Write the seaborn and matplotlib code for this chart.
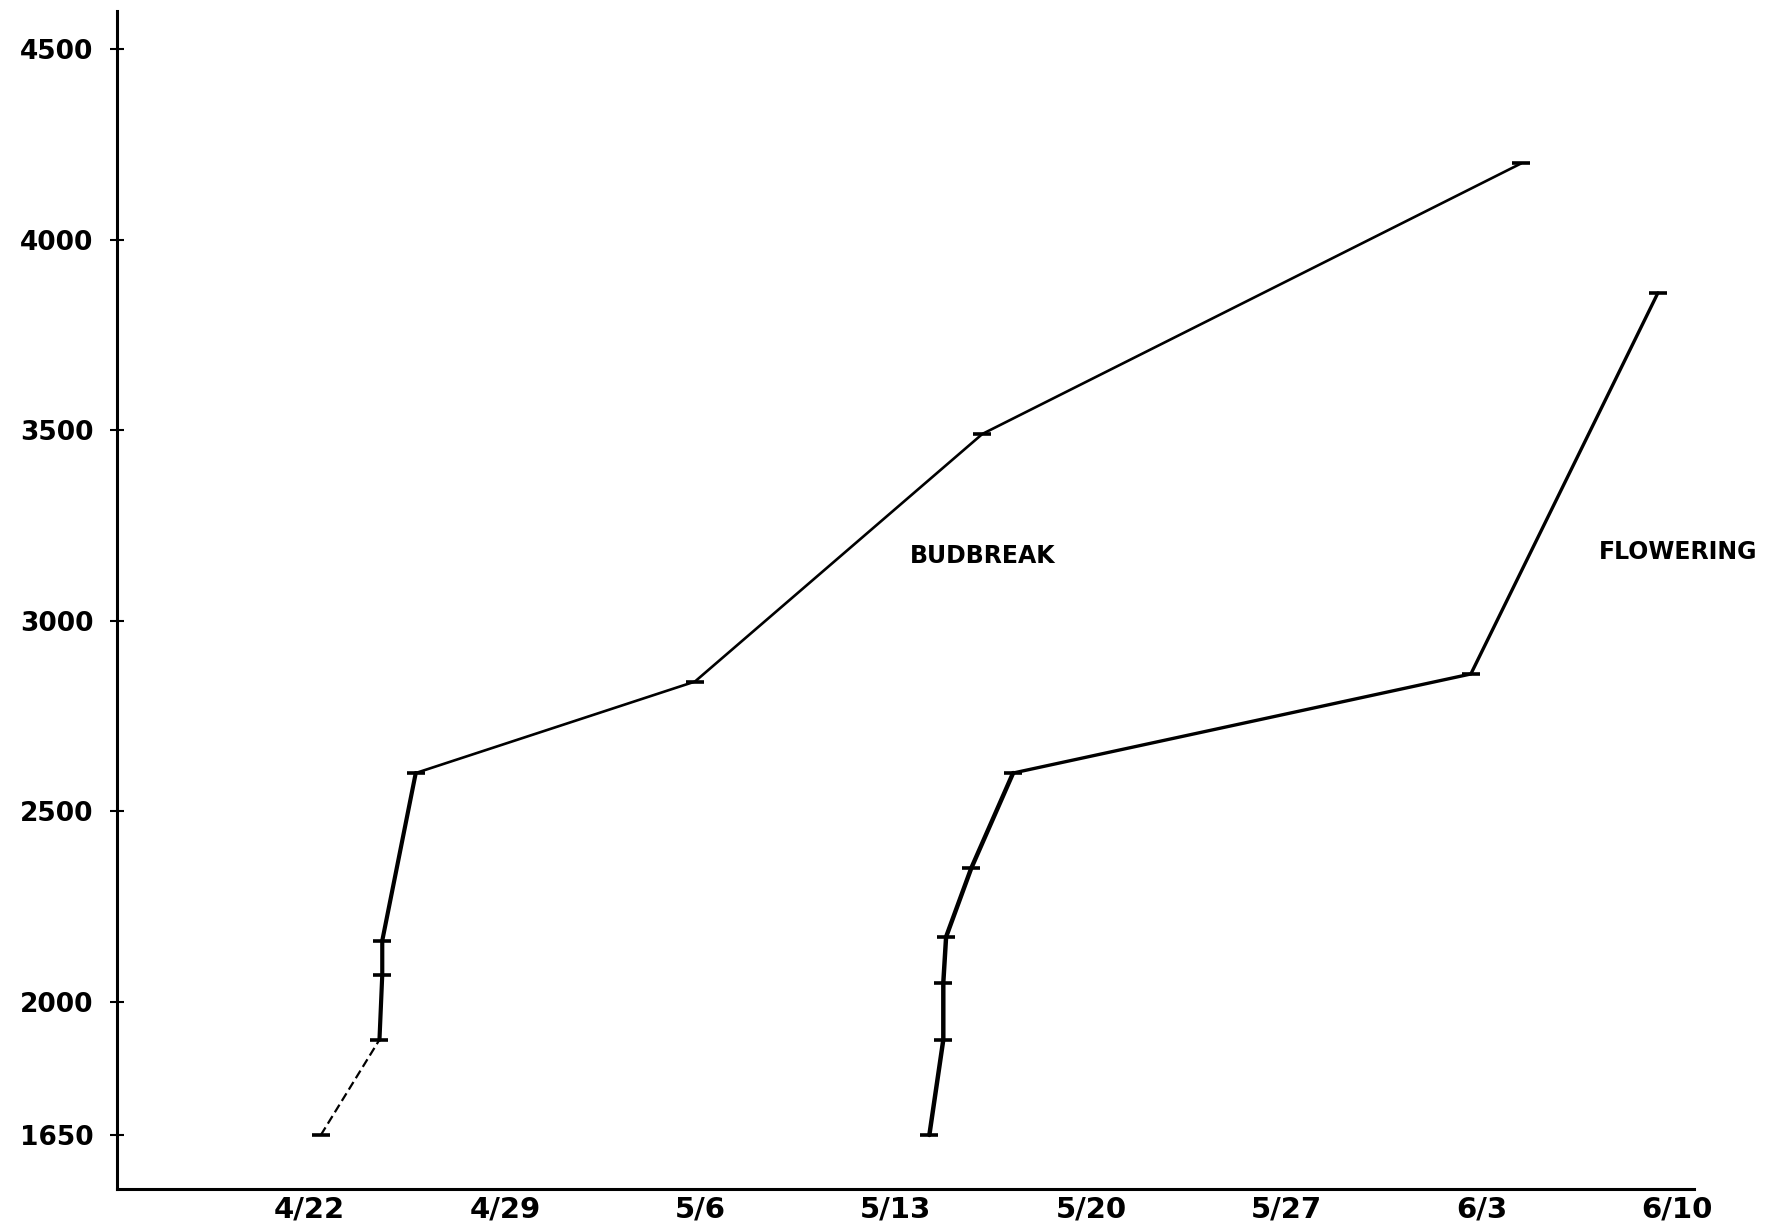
import matplotlib
matplotlib.use("Agg")
import matplotlib.pyplot as plt
import seaborn as sns
import pandas as pd

# Days counted from April 22
week_ticks = [0, 7, 14, 21, 28, 35, 42, 49]
week_labels = ["4/22", "4/29", "5/6", "5/13", "5/20", "5/27", "6/3", "6/10"]
y_ticks = [1650, 2000, 2500, 3000, 3500, 4000, 4500]

# Budbreak: day, accumulated heat units
bud_days = [0.4, 2.5, 2.6, 2.6, 3.8, 13.8, 24.1, 43.4]
bud_units = [1650, 1900, 2070, 2160, 2600, 2840, 3490, 4200]

# Flowering: day, accumulated heat units
flw_days = [22.2, 22.7, 22.7, 22.8, 23.7, 25.2, 41.6, 48.3]
flw_units = [1650, 1900, 2050, 2170, 2350, 2600, 2860, 3860]

sns.set_theme(style="white")
plt.rcParams["font.family"] = ["DejaVu Sans"]
plt.rcParams["text.color"] = "black"

fig = plt.figure(figsize=(17.74, 12.25), dpi=100)
ax = fig.add_axes([0.066, 0.029, 0.889, 0.962])

bud = pd.DataFrame({"day": bud_days, "units": bud_units})
flw = pd.DataFrame({"day": flw_days, "units": flw_units})

# Budbreak curve: dashed first leg, heavy lower legs, lighter upper legs
sns.lineplot(data=bud.iloc[0:2], x="day", y="units", ax=ax, color="black",
             lw=1.6, sort=False, estimator=None, linestyle=(0, (4, 2)))
sns.lineplot(data=bud.iloc[1:5], x="day", y="units", ax=ax, color="black",
             lw=3.0, sort=False, estimator=None)
sns.lineplot(data=bud.iloc[4:8], x="day", y="units", ax=ax, color="black",
             lw=1.9, sort=False, estimator=None)

# Flowering curve
sns.lineplot(data=flw.iloc[0:6], x="day", y="units", ax=ax, color="black",
             lw=3.2, sort=False, estimator=None)
sns.lineplot(data=flw.iloc[5:8], x="day", y="units", ax=ax, color="black",
             lw=2.4, sort=False, estimator=None)

# Observation markers
sns.scatterplot(data=bud, x="day", y="units", ax=ax, marker="_", s=180,
                color="black", linewidth=2.6, zorder=3)
sns.scatterplot(data=flw, x="day", y="units", ax=ax, marker="_", s=180,
                color="black", linewidth=2.6, zorder=3)

ax.text(21.5, 3170, "BUDBREAK", fontsize=17, fontweight="bold",
        color="black", ha="left", va="center")
ax.text(46.2, 3180, "FLOWERING", fontsize=17, fontweight="bold",
        color="black", ha="left", va="center", clip_on=False)

ax.set_xlim(-6.9, 49.6)
ax.set_ylim(1507, 4600)
ax.set_xticks(week_ticks)
ax.set_xticklabels(week_labels, fontsize=21, fontweight="bold", color="black")
ax.set_yticks(y_ticks)
ax.set_yticklabels([str(v) for v in y_ticks], fontsize=19, fontweight="bold",
                   color="black")
ax.set_xlabel("")
ax.set_ylabel("")

for side in ["top", "right"]:
    ax.spines[side].set_visible(False)
for side in ["left", "bottom"]:
    ax.spines[side].set_color("black")
    ax.spines[side].set_linewidth(2.2)

ax.tick_params(axis="y", direction="inout", length=10, width=1.5,
               colors="black", pad=12, left=True)
ax.tick_params(axis="x", direction="out", length=0, pad=4, colors="black")
ax.grid(False)

fig.savefig("out.png", dpi=100, facecolor="white")
